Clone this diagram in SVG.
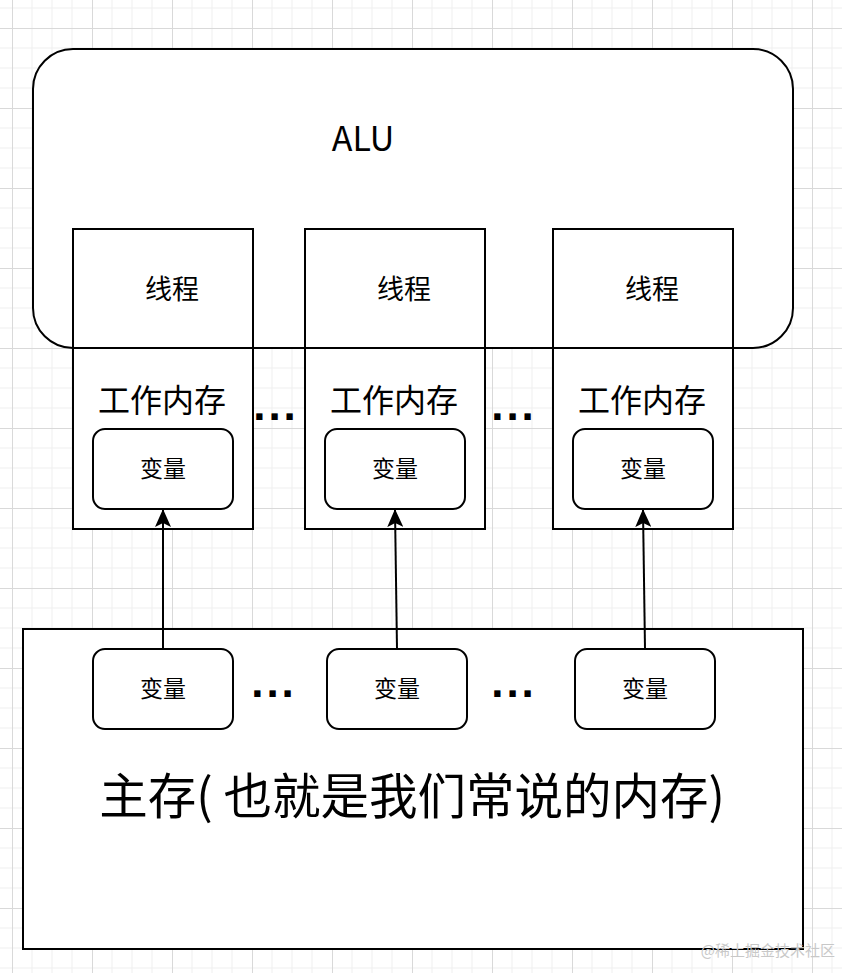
<svg xmlns="http://www.w3.org/2000/svg" width="842" height="973" viewBox="0 0 842 973">
<defs>
<pattern id="grid" patternUnits="userSpaceOnUse" x="12" y="28" width="80" height="80">
<path d="M0 20H80M0 40H80M0 60H80M20 0V80M40 0V80M60 0V80" stroke="#efefef" stroke-width="1" fill="none"/>
<path d="M0 0.5H80M0.5 0V80" stroke="#d9d9d9" stroke-width="1" fill="none"/>
</pattern>
<marker id="arr" viewBox="0 0 18 16" refX="17" refY="8" markerWidth="18" markerHeight="16" markerUnits="userSpaceOnUse" orient="auto">
<path d="M0 0L18 8L0 16L4 8Z" fill="#000"/>
</marker>
<style>
.box{fill:#fff;stroke:#000;stroke-width:2}
.t{font-family:"Microsoft YaHei","Noto Sans CJK SC",sans-serif;fill:#000;text-anchor:middle;dominant-baseline:central}
.v{font-size:23px}
.w{font-size:32px}
.th{font-size:27px}
.dots{font-family:"Liberation Sans",Arial,sans-serif;font-weight:bold;font-size:44px;letter-spacing:3px;text-anchor:middle}
.c{stroke:#000;stroke-width:2;fill:none;marker-end:url(#arr)}
</style>
</defs>
<rect width="842" height="973" fill="#fff"/>
<rect width="842" height="973" fill="url(#grid)"/>
<g id="alu">
<rect class="box" x="33" y="49" width="760" height="299" rx="40" ry="40"/>
<text class="t" x="363" y="136" style="font-size:34px">ALU</text>
</g>
<g id="thread1">
<rect class="box" x="73" y="229" width="180" height="300" style="fill:none"/>
<rect x="74" y="349" width="178" height="179" fill="#fff"/>
<line x1="73" y1="348" x2="253" y2="348" stroke="#000" stroke-width="2"/>
<text class="t th" x="172" y="287">线程</text>
<text class="t w" x="162" y="398">工作内存</text>
</g>
<g id="thread2">
<rect class="box" x="305" y="229" width="180" height="300" style="fill:none"/>
<rect x="306" y="349" width="178" height="179" fill="#fff"/>
<line x1="305" y1="348" x2="485" y2="348" stroke="#000" stroke-width="2"/>
<text class="t th" x="404" y="287">线程</text>
<text class="t w" x="394" y="398">工作内存</text>
</g>
<g id="thread3">
<rect class="box" x="553" y="229" width="180" height="300" style="fill:none"/>
<rect x="554" y="349" width="178" height="179" fill="#fff"/>
<line x1="553" y1="348" x2="733" y2="348" stroke="#000" stroke-width="2"/>
<text class="t th" x="652" y="287">线程</text>
<text class="t w" x="642" y="398">工作内存</text>
</g>
<g id="var1">
<rect class="box" x="93" y="429" width="140" height="80" rx="12"/>
<text class="t v" x="163" y="467">变量</text>
</g>
<g id="var2">
<rect class="box" x="325" y="429" width="140" height="80" rx="12"/>
<text class="t v" x="395" y="467">变量</text>
</g>
<g id="var3">
<rect class="box" x="573" y="429" width="140" height="80" rx="12"/>
<text class="t v" x="643" y="467">变量</text>
</g>
<g id="dots1"><text class="dots" x="276" y="420">...</text></g>
<g id="dots2"><text class="dots" x="514" y="420">...</text></g>
<g id="main">
<rect class="box" x="23" y="629" width="780" height="320"/>
<text class="t" x="412" y="793" style="font-size:48.5px">主存( 也就是我们常说的内存)</text>
</g>
<g id="mvar1">
<rect class="box" x="93" y="649" width="140" height="80" rx="12"/>
<text class="t v" x="163" y="687">变量</text>
</g>
<g id="mvar2">
<rect class="box" x="327" y="649" width="140" height="80" rx="12"/>
<text class="t v" x="397" y="687">变量</text>
</g>
<g id="mvar3">
<rect class="box" x="575" y="649" width="140" height="80" rx="12"/>
<text class="t v" x="645" y="687">变量</text>
</g>
<g id="dots3"><text class="dots" x="274" y="697">...</text></g>
<g id="dots4"><text class="dots" x="514" y="697">...</text></g>
<g id="connectors">
<line class="c" x1="163" y1="649" x2="163" y2="510"/>
<line class="c" x1="397" y1="649" x2="395" y2="510"/>
<line class="c" x1="645" y1="649" x2="643" y2="510"/>
</g>
<text x="835" y="956" text-anchor="end" font-family="Noto Sans CJK SC,sans-serif" font-size="15" fill="#c8c8c8">@稀土掘金技术社区</text>
</svg>
